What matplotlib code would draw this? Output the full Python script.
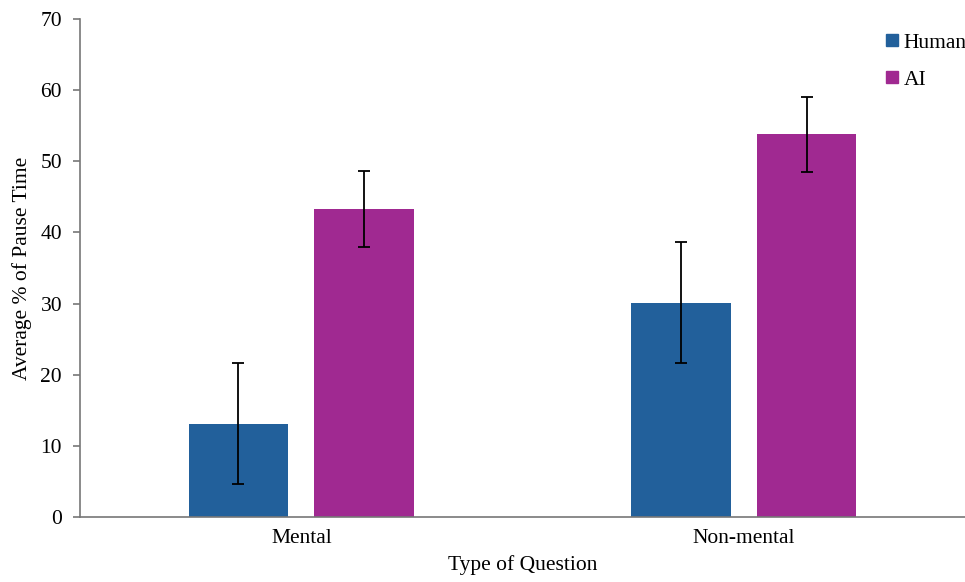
import numpy as np
import matplotlib.pyplot as plt
from matplotlib.lines import Line2D

plt.rcParams['font.family'] = ['Liberation Serif', 'DejaVu Serif']

# --- data ---
categories = ['Mental', 'Non-mental']
human_vals = [13.1, 30.1]
human_err = [8.5, 8.5]
ai_vals = [43.3, 53.8]
ai_err = [5.3, 5.3]

blue = '#22609B'
purple = '#A02991'
fs = 15.5

fig = plt.figure(figsize=(9.65, 5.82), dpi=100)
ax = fig.add_axes([0.083, 0.112, 0.917, 0.855])

x = np.arange(len(categories))
w = 0.225
off = 0.142
ax.bar(x - off, human_vals, w, color=blue, yerr=human_err,
       error_kw=dict(ecolor='black', elinewidth=1.3, capsize=4, capthick=1.3))
ax.bar(x + off, ai_vals, w, color=purple, yerr=ai_err,
       error_kw=dict(ecolor='black', elinewidth=1.3, capsize=4, capthick=1.3))

ax.set_xlim(-0.5, 1.5)
ax.set_ylim(0, 70)
ax.set_yticks(range(0, 71, 10))
ax.set_xticks(x)
ax.set_xticklabels(categories, fontsize=fs)
ax.tick_params(axis='x', length=0, pad=9)
ax.tick_params(axis='y', labelsize=fs, length=5, color='#777777', width=1.2, pad=8)

for s in ['top', 'right']:
    ax.spines[s].set_visible(False)
for s in ['left', 'bottom']:
    ax.spines[s].set_color('#777777')
    ax.spines[s].set_linewidth(1.2)

ax.set_xlabel('Type of Question', fontsize=fs, labelpad=5)
ax.set_ylabel('Average % of Pause Time', fontsize=fs, labelpad=6)

handles = [Line2D([], [], marker='s', linestyle='none', color=blue, markersize=8),
           Line2D([], [], marker='s', linestyle='none', color=purple, markersize=8)]
ax.legend(handles, ['Human', 'AI'], loc='upper right', bbox_to_anchor=(1.024, 1.012),
          frameon=False, fontsize=fs, handletextpad=0.05, labelspacing=0.8,
          handlelength=1.0)

fig.savefig('out.png', dpi=100)
